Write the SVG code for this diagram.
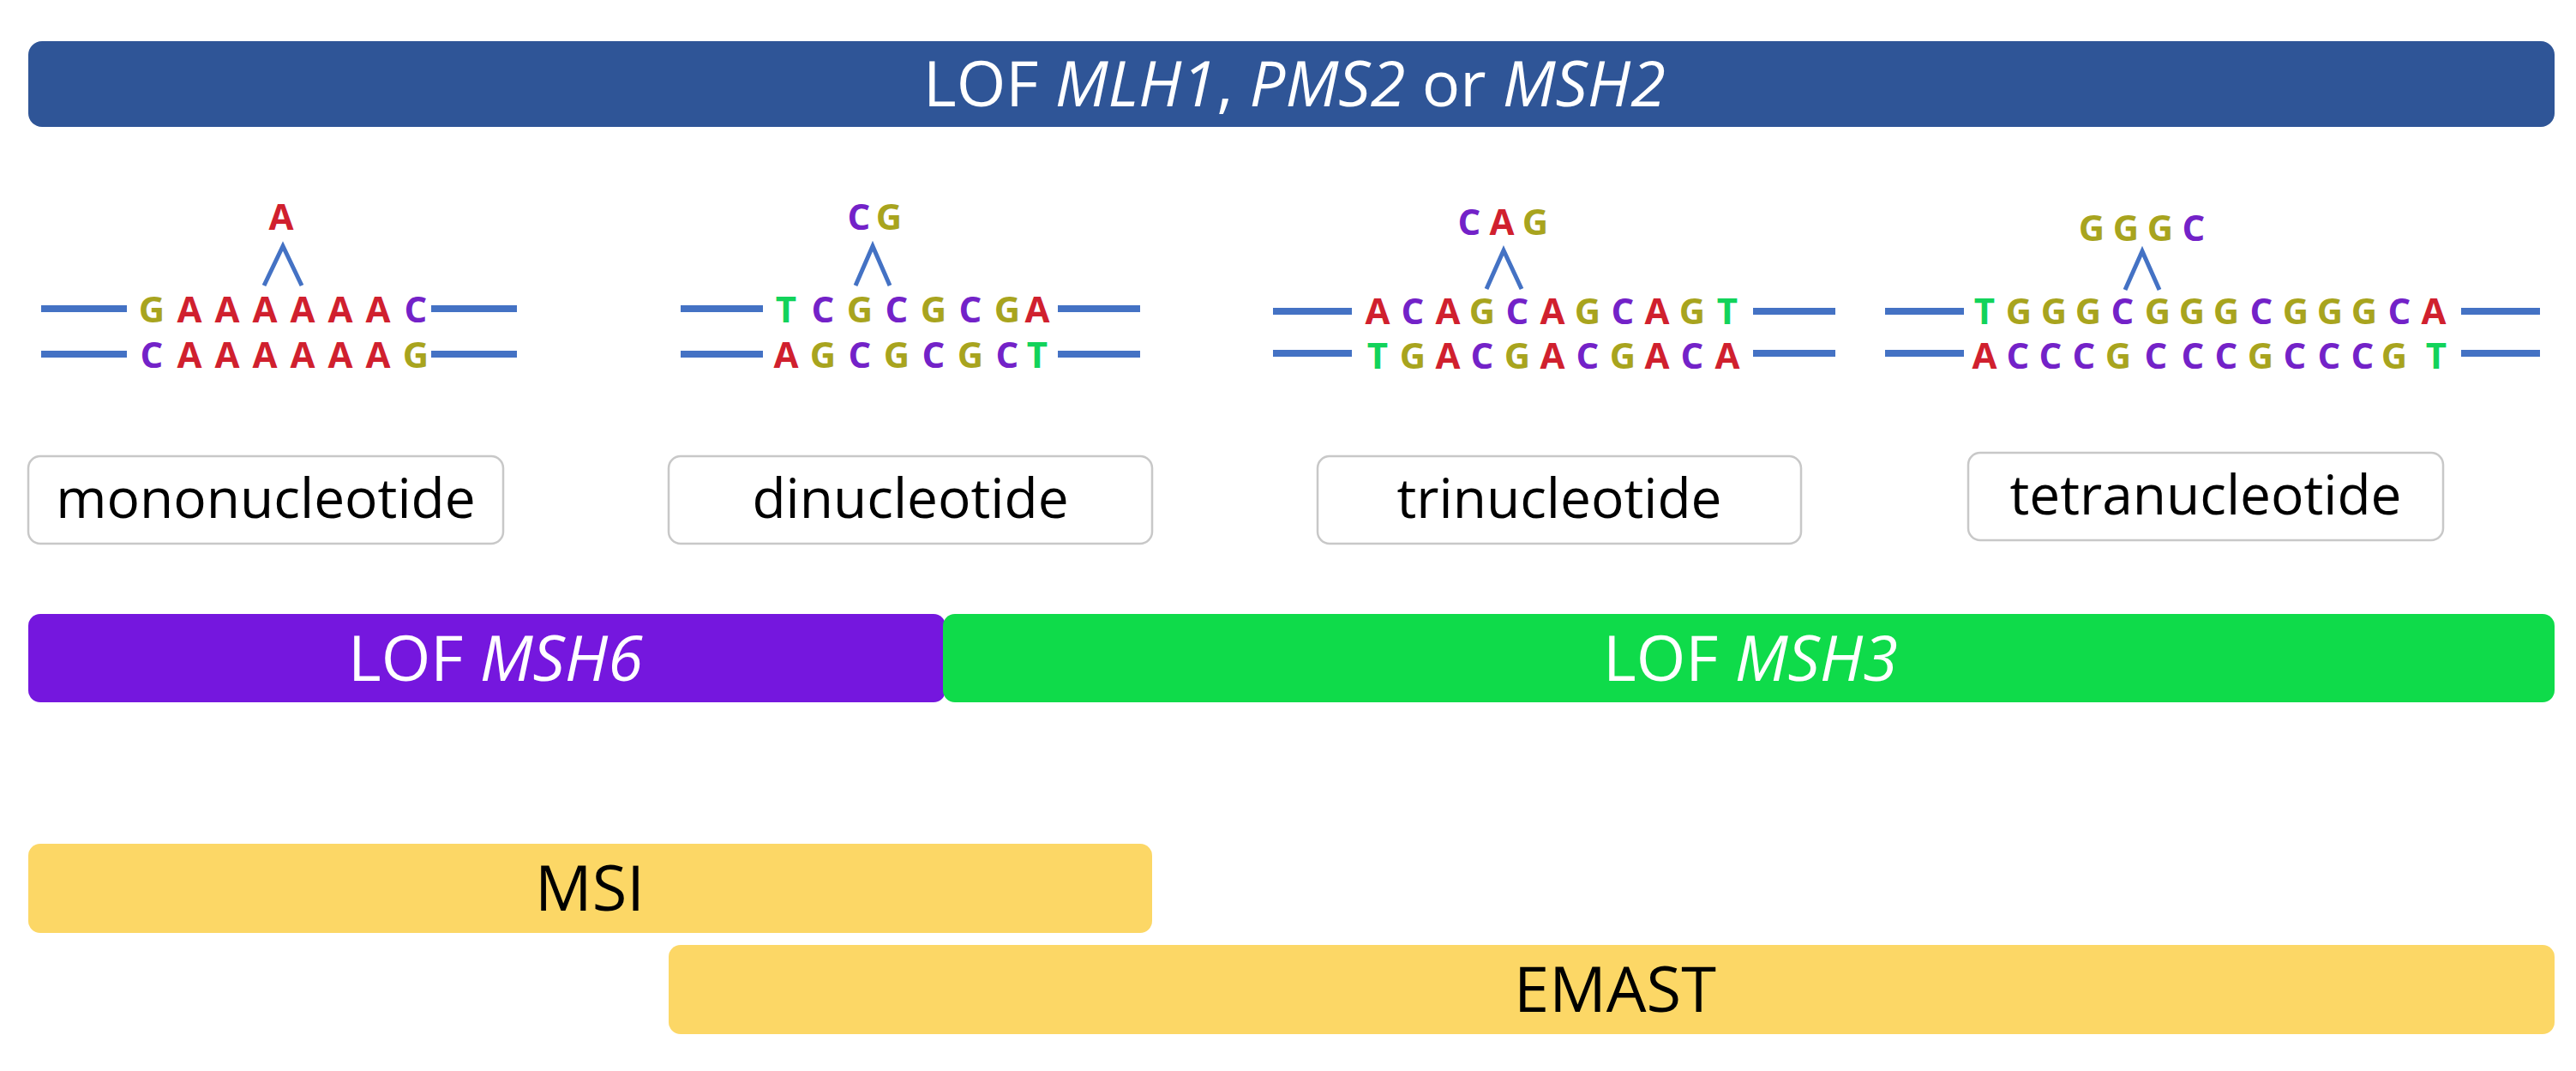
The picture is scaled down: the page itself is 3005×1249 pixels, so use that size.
<svg xmlns="http://www.w3.org/2000/svg" width="3005" height="1249" viewBox="0 0 3005 1249">
<style>
.t{font-family:"Open Sans","Noto Sans",sans-serif;text-anchor:middle}
.w{fill:#fff;font-size:74px}
.k{fill:#000;font-size:74px}
.lab{fill:#000;font-size:64px}
.box{fill:#fff;stroke:#c8c8c8;stroke-width:2.5}
.n{font-family:"Open Sans","Noto Sans",sans-serif;font-weight:bold;font-size:42px;text-anchor:middle}
.A{fill:#d0202e}.C{fill:#7322c8}.G{fill:#a8a41e}.T{fill:#12d35a}
.ln{stroke:#4472c4;stroke-width:8;fill:none}
.cr{stroke:#4472c4;stroke-width:5;fill:none}
</style>
<rect width="3005" height="1249" fill="#fff"/>
<g id="banner"><rect x="33" y="48" width="2947" height="100" rx="16" fill="#2f5597"/>
<text class="t w" x="1510" y="124">LOF <tspan font-style="italic">MLH1</tspan>, <tspan font-style="italic">PMS2</tspan> or <tspan font-style="italic">MSH2</tspan></text></g>

<g id="mono">
<path class="ln" d="M48 360H148M503 360H603M48 413H148M503 413H603"/>
<polyline class="cr" points="308,333 330,287 352,333"/>
<text class="n" y="268"><tspan class="A" x="328">A</tspan></text>
<text class="n" y="376"><tspan class="G" x="177">G</tspan><tspan class="A" x="221">A</tspan><tspan class="A" x="265">A</tspan><tspan class="A" x="309">A</tspan><tspan class="A" x="353">A</tspan><tspan class="A" x="397">A</tspan><tspan class="A" x="441">A</tspan><tspan class="C" x="485">C</tspan></text>
<text class="n" y="429"><tspan class="C" x="177">C</tspan><tspan class="A" x="221">A</tspan><tspan class="A" x="265">A</tspan><tspan class="A" x="309">A</tspan><tspan class="A" x="353">A</tspan><tspan class="A" x="397">A</tspan><tspan class="A" x="441">A</tspan><tspan class="G" x="485">G</tspan></text>
</g>

<g id="di">
<path class="ln" d="M794 360H890M1234 360H1330M794 413H890M1234 413H1330"/>
<polyline class="cr" points="998,333 1018,287 1038,333"/>
<text class="n" y="268"><tspan class="C" x="1002">C</tspan><tspan class="G" x="1037">G</tspan></text>
<text class="n" y="376"><tspan class="T" x="917">T</tspan><tspan class="C" x="960">C</tspan><tspan class="G" x="1003">G</tspan><tspan class="C" x="1046">C</tspan><tspan class="G" x="1089">G</tspan><tspan class="C" x="1132">C</tspan><tspan class="G" x="1175">G</tspan><tspan class="A" x="1210">A</tspan></text>
<text class="n" y="429"><tspan class="A" x="917">A</tspan><tspan class="G" x="960">G</tspan><tspan class="C" x="1003">C</tspan><tspan class="G" x="1046">G</tspan><tspan class="C" x="1089">C</tspan><tspan class="G" x="1132">G</tspan><tspan class="C" x="1175">C</tspan><tspan class="T" x="1210">T</tspan></text>
</g>

<g id="tri">
<path class="ln" d="M1485 363H1577M2045 363H2141M1485 412H1577M2045 412H2141"/>
<polyline class="cr" points="1734,337 1754,292 1775,337"/>
<text class="n" y="274"><tspan class="C" x="1714">C</tspan><tspan class="A" x="1752">A</tspan><tspan class="G" x="1791">G</tspan></text>
<text class="n" y="378"><tspan class="A" x="1607">A</tspan><tspan class="C" x="1648">C</tspan><tspan class="A" x="1689">A</tspan><tspan class="G" x="1729">G</tspan><tspan class="C" x="1770">C</tspan><tspan class="A" x="1811">A</tspan><tspan class="G" x="1852">G</tspan><tspan class="C" x="1893">C</tspan><tspan class="A" x="1933">A</tspan><tspan class="G" x="1974">G</tspan><tspan class="T" x="2015">T</tspan></text>
<text class="n" y="430"><tspan class="T" x="1607">T</tspan><tspan class="G" x="1648">G</tspan><tspan class="A" x="1689">A</tspan><tspan class="C" x="1729">C</tspan><tspan class="G" x="1770">G</tspan><tspan class="A" x="1811">A</tspan><tspan class="C" x="1852">C</tspan><tspan class="G" x="1893">G</tspan><tspan class="A" x="1933">A</tspan><tspan class="C" x="1974">C</tspan><tspan class="A" x="2015">A</tspan></text>
</g>

<g id="tetra">
<path class="ln" d="M2199 363H2291M2871 363H2963M2199 412H2291M2871 412H2963"/>
<polyline class="cr" points="2479,338 2499,293 2519,338"/>
<text class="n" y="281"><tspan class="G" x="2440">G</tspan><tspan class="G" x="2480">G</tspan><tspan class="G" x="2520">G</tspan><tspan class="C" x="2559">C</tspan></text>
<text class="n" y="378"><tspan class="T" x="2315">T</tspan><tspan class="G" x="2355">G</tspan><tspan class="G" x="2396">G</tspan><tspan class="G" x="2436">G</tspan><tspan class="C" x="2476">C</tspan><tspan class="G" x="2517">G</tspan><tspan class="G" x="2557">G</tspan><tspan class="G" x="2597">G</tspan><tspan class="C" x="2638">C</tspan><tspan class="G" x="2678">G</tspan><tspan class="G" x="2718">G</tspan><tspan class="G" x="2758">G</tspan><tspan class="C" x="2799">C</tspan><tspan class="A" x="2839">A</tspan></text>
<text class="n" y="430"><tspan class="A" x="2315">A</tspan><tspan class="C" x="2354">C</tspan><tspan class="C" x="2392">C</tspan><tspan class="C" x="2431">C</tspan><tspan class="G" x="2471">G</tspan><tspan x="2493"> </tspan><tspan class="C" x="2515">C</tspan><tspan class="C" x="2558">C</tspan><tspan class="C" x="2597">C</tspan><tspan class="G" x="2637">G</tspan><tspan class="C" x="2677">C</tspan><tspan class="C" x="2717">C</tspan><tspan class="C" x="2756">C</tspan><tspan class="G" x="2793">G</tspan><tspan class="T" x="2842">T</tspan></text>
</g>

<g id="lab-mono"><rect class="box" x="33" y="532" width="554" height="102" rx="14"/><text class="t lab" x="310" y="604">mononucleotide</text></g>
<g id="lab-di"><rect class="box" x="780" y="532" width="564" height="102" rx="14"/><text class="t lab" x="1062" y="604">dinucleotide</text></g>
<g id="lab-tri"><rect class="box" x="1537" y="532" width="564" height="102" rx="14"/><text class="t lab" x="1819" y="604">trinucleotide</text></g>
<g id="lab-tetra"><rect class="box" x="2296" y="528" width="554" height="102" rx="14"/><text class="t lab" x="2573" y="600">tetranucleotide</text></g>

<g id="msh6"><rect x="33" y="716" width="1070" height="103" rx="14" fill="#7517de"/><text class="t w" x="578" y="794">LOF <tspan font-style="italic">MSH6</tspan></text></g>
<g id="msh3"><rect x="1100" y="716" width="1880" height="103" rx="14" fill="#0fdb4a"/><text class="t w" x="2042" y="794">LOF <tspan font-style="italic">MSH3</tspan></text></g>
<g id="msi"><rect x="33" y="984" width="1311" height="104" rx="14" fill="#fcd766"/><text class="t k" x="688" y="1062">MSI</text></g>
<g id="emast"><rect x="780" y="1102" width="2200" height="104" rx="14" fill="#fcd766"/><text class="t k" x="1884" y="1180">EMAST</text></g>
<g id="connectors"/>
</svg>
